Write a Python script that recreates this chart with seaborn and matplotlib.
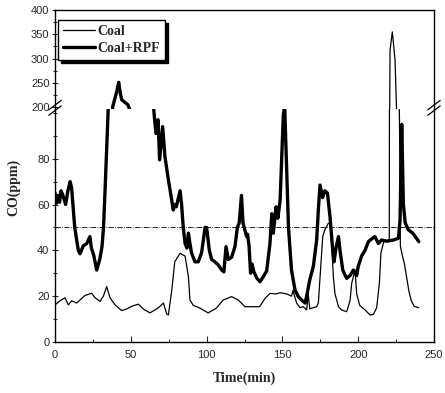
import numpy as np
import pandas as pd
import matplotlib
matplotlib.use("Agg")
import matplotlib.pyplot as plt
import seaborn as sns
from matplotlib.ticker import MultipleLocator
from matplotlib.lines import Line2D

# Coal (thin line), time in min, CO in ppm
coal_t = [0, 3.3, 6.6, 8.8, 11, 14.3, 17.6, 19.8, 24.2, 26.4, 29.7, 31.9, 34.1,
          36.3, 39.6, 44, 47.2, 50.6, 55, 58.3, 62.6, 66, 69, 71.5, 73.7, 74.8,
          77, 79, 82.5, 85.8, 87.3, 88, 89, 91.2, 95.6, 101, 106.5, 110.9, 116.5,
          120.9, 125.3, 135, 138.5, 141.8, 146, 148.4, 152.8, 156, 157, 158,
          159.4, 161.6, 163.7, 166, 167, 168, 169.5, 172.6, 173.7, 175.3, 176.6,
          178, 180.3, 181.4, 182.5, 183.6, 184.7, 187, 189, 192.4, 194.6, 195.7,
          197.9, 199, 201, 204.5, 207.8, 210, 212.2, 214, 215, 217, 220.5, 221,
          222.5, 224.3, 225.3, 227.3, 227.8, 229, 230.5, 232, 233.5, 235, 237,
          240]
coal_co = [16.2, 18, 19.3, 16.2, 18, 17, 19, 20.3, 21.3, 19.3, 17.7, 20, 24.2,
           19.3, 16.2, 13.7, 14.4, 15.6, 16.5, 14.4, 12.7, 14, 15.4, 17, 12.2,
           11.8, 22.5, 35, 38.7, 37.5, 31.4, 28.5, 18.3, 16, 14.8, 12.7, 14.8,
           18.3, 19.8, 18.3, 15.4, 15.4, 19, 21.2, 21, 21.5, 21, 20, 22.5, 20,
           17, 15, 15.4, 14, 21, 14.5, 14.8, 15.4, 17, 33, 46, 49, 51.8, 51.8,
           43, 28.5, 21, 15.4, 14, 13.2, 18, 25.6, 31.4, 21, 16, 14, 11.8, 12,
           15, 26, 39, 44, 44.5, 317, 355, 297, 194, 92, 42, 38, 34, 28, 22, 18,
           15.5, 15]

# Coal+RPF (thick line)
rpf_t = [0, 1, 2, 3, 4, 5.5, 7, 8.5, 10, 11, 13, 15.4, 16.5, 18.7, 21, 23, 24,
         25.5, 27.5, 29.5, 31, 32, 33, 35, 38, 41, 42, 43, 44, 46, 48, 50, 60,
         65.3, 66.6, 68, 69, 71, 72.5, 74.8, 76, 78, 79, 80, 82.5, 83.5, 84.6,
         85.8, 87, 88, 89, 90, 92.3, 94.5, 96.7, 99, 100, 101.8, 103.3, 105.5,
         107.7, 110, 111.4, 112.8, 114.3, 116.5, 118.7, 120.3, 121.5, 123, 124,
         126.4, 127, 128, 129, 130, 131, 133, 135.2, 137.4, 139.6, 141.8, 143,
         144, 145.8, 147, 148.5, 149.5, 150.6, 151.5, 152.4, 154, 156, 158.3,
         160.5, 162.7, 165, 166, 168, 170.4, 172.6, 173.7, 174.8, 176.5, 178,
         179.7, 181.4, 183.2, 184, 185.5, 187, 188, 189.8, 192.4, 194.6, 196.8,
         199, 200, 202.3, 204.5, 206.7, 208.9, 211, 213.3, 215.5, 218.8, 223.2,
         226.5, 227.6, 228.7, 229.8, 231, 233, 236, 239.7, 240]
rpf_co = [65, 60.6, 64, 61, 66, 63.5, 60, 66, 70, 67, 50, 40, 38.5, 42, 43, 46,
          41, 38, 31.4, 36, 41.6, 50, 66, 100, 200, 235, 251, 230, 215, 210, 205,
          190, 150, 100, 91, 97, 79.5, 94, 81, 70.7, 66, 57.6, 60, 59, 66, 60,
          50, 43, 41, 47.5, 43, 39, 35, 35, 39, 50, 50, 40, 36, 35, 33.6, 31.4,
          30.6, 41.6, 36, 37, 41.6, 50, 52, 64, 52, 46, 47, 42, 30, 34, 31, 28,
          26.3, 28.5, 31, 43, 56, 47.5, 59, 54, 62, 80, 99, 103, 84, 50, 31.4,
          22.7, 19.8, 18.3, 17, 20, 27, 33, 44.5, 57.6, 68.5, 63, 66, 65, 54.7,
          40, 35, 41.6, 46, 40, 31.4, 27.8, 29, 31.4, 29, 33, 37.6, 40, 43.8,
          45, 46, 43, 44.5, 44, 44.5, 45.3, 53, 95, 60, 52, 49, 47.5, 44, 43.8]

series_labels = ["Coal", "Coal+RPF"]
series_widths = [0.9, 2.4]
x_ticks = [0, 50, 100, 150, 200, 250]
low_ticks = [0, 20, 40, 60, 80]
high_ticks = [200, 250, 300, 350, 400]
limit_co = 50

serif = "Liberation Serif"
sans = "Liberation Sans"


def build_frame():
    d1 = pd.DataFrame({"Time": coal_t, "CO": coal_co, "Fuel": series_labels[0]})
    d2 = pd.DataFrame({"Time": rpf_t, "CO": rpf_co, "Fuel": series_labels[1]})
    return pd.concat([d1, d2], ignore_index=True)


def draw_series(ax, df):
    sns.lineplot(data=df, x="Time", y="CO", hue="Fuel", size="Fuel",
                 sizes=dict(zip(series_labels, series_widths)),
                 palette={k: "black" for k in series_labels},
                 estimator=None, sort=False, legend=False, ax=ax)
    ax.set_xlabel("")
    ax.set_ylabel("")


def style_axis(ax):
    for s in ax.spines.values():
        s.set_linewidth(1.0)
        s.set_color("black")
    ax.tick_params(axis="y", which="major", direction="inout", length=5,
                   width=0.8, labelsize=8, pad=1.5)
    ax.tick_params(axis="y", which="minor", direction="inout", length=2.5,
                   width=0.7)
    for lab in ax.get_yticklabels():
        lab.set_family(sans)


sns.set_style("ticks")
plt.rcParams["font.family"] = [sans, "DejaVu Sans"]

df = build_frame()

fig = plt.figure(figsize=(4.45, 3.93), dpi=100)
ax_low = fig.add_axes([0.1236, 0.1298, 0.8517, 0.5929])
ax_high = fig.add_axes([0.1236, 0.7226, 0.8517, 0.2519])

draw_series(ax_low, df)
draw_series(ax_high, df)

# lower part: 0-100 ppm
ax_low.set_xlim(0, 250)
ax_low.set_ylim(0, 101.7)
ax_low.set_xticks(x_ticks)
ax_low.xaxis.set_minor_locator(MultipleLocator(25))
ax_low.set_yticks(low_ticks)
ax_low.yaxis.set_minor_locator(MultipleLocator(10))
ax_low.spines["top"].set_visible(False)
ax_low.tick_params(axis="x", which="major", direction="in", length=4,
                   width=0.8, labelsize=8, pad=6)
ax_low.tick_params(axis="x", which="minor", direction="in", length=2, width=0.7)
ax_low.axhline(limit_co, color="black", lw=0.6, ls="-.")
style_axis(ax_low)
for lab in ax_low.get_xticklabels():
    lab.set_family(sans)

# upper part: 200-400 ppm
ax_high.set_xlim(0, 250)
ax_high.set_ylim(196, 400)
ax_high.set_yticks(high_ticks)
ax_high.yaxis.set_minor_locator(MultipleLocator(25))
ax_high.spines["bottom"].set_visible(False)
ax_high.tick_params(axis="x", which="both", bottom=False, labelbottom=False)
style_axis(ax_high)

# break marks on both side spines
for xa in (0.0, 1.0):
    for dy in (-0.004, 0.010):
        fig.add_artist(Line2D([0.1236 + xa * 0.8517 - 0.014, 0.1236 + xa * 0.8517 + 0.014],
                              [0.7226 + dy - 0.012, 0.7226 + dy + 0.012],
                              color="black", lw=0.9))

handles = [Line2D([], [], color="black", lw=w) for w in series_widths]
ax_high.legend(handles, series_labels, loc="upper left",
               bbox_to_anchor=(0.008, 0.9), borderaxespad=0, frameon=True,
               fancybox=False, framealpha=1, edgecolor="black",
               shadow={"color": "black", "alpha": 1},
               prop={"family": serif, "weight": "bold", "size": 10},
               handlelength=2.3, handletextpad=0.2, borderpad=0.35,
               labelspacing=0.3)

fig.text(0.031, 0.524, "CO(ppm)", rotation=90, ha="center", va="center",
         family=serif, weight="bold", fontsize=10)
fig.text(0.549, 0.038, "Time(min)", ha="center", va="center",
         family=serif, weight="bold", fontsize=10)

fig.savefig("out.png", dpi=100)
